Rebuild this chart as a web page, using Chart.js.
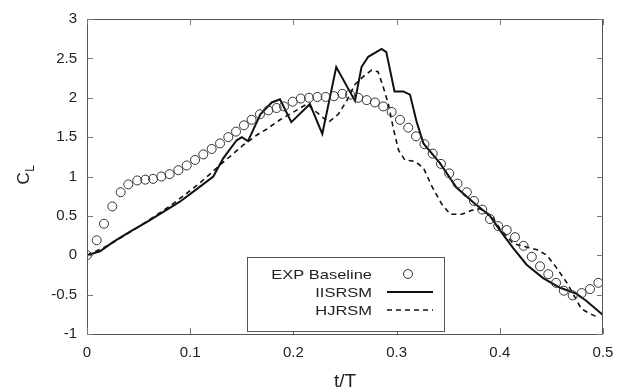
<!DOCTYPE html>
<html>
<head>
<meta charset="utf-8">
<script src="https://cdn.jsdelivr.net/npm/chart.js@4.4.1/dist/chart.umd.min.js"></script>
<style>
html,body{margin:0;padding:0;background:#fff;}
canvas{display:block;}
</style>
</head>
<body>
<canvas id="c" width="630" height="392"></canvas>
<script>
// ---- data ----
const xTicks = [0, 0.1, 0.2, 0.3, 0.4, 0.5];
const yTicks = [-1, -0.5, 0, 0.5, 1, 1.5, 2, 2.5, 3];

const expT  = [0.000,0.0094,0.0165,0.0245,0.0326,0.040,0.0487,0.0565,0.064,0.072,0.080,0.0885,0.0966,0.1047,0.1127,0.1208,0.1289,0.1369,0.1444,0.1521,0.1595,0.1676,0.1757,0.1837,0.1909,0.1993,0.2071,0.2151,0.2232,0.2313,0.2393,0.2474,0.2548,0.2629,0.271,0.279,0.287,0.2952,0.3033,0.3113,0.3188,0.327,0.335,0.343,0.351,0.359,0.368,0.375,0.383,0.3905,0.3985,0.4067,0.4147,0.423,0.431,0.439,0.447,0.4545,0.462,0.4706,0.4793,0.4874,0.4955];
const expCL = [0.00,0.19,0.40,0.62,0.80,0.90,0.95,0.96,0.97,1.00,1.03,1.08,1.14,1.21,1.28,1.35,1.42,1.50,1.57,1.65,1.72,1.79,1.84,1.87,1.89,1.95,1.99,2.00,2.01,2.01,2.02,2.05,2.04,2.00,1.97,1.94,1.89,1.82,1.72,1.62,1.51,1.41,1.29,1.16,1.04,0.91,0.80,0.69,0.58,0.46,0.37,0.32,0.23,0.12,-0.02,-0.14,-0.24,-0.35,-0.45,-0.51,-0.48,-0.43,-0.35];

const iisT  = [0,0.0126,0.0255,0.0417,0.0578,0.074,0.090,0.1063,0.1224,0.132,0.145,0.150,0.156,0.168,0.179,0.187,0.198,0.216,0.228,0.2415,0.2597,0.266,0.2725,0.2855,0.290,0.298,0.3065,0.313,0.3195,0.326,0.342,0.358,0.3745,0.3905,0.400,0.413,0.426,0.442,0.458,0.4745,0.484,0.5];
const iisCL = [0,0.05,0.17,0.30,0.42,0.55,0.68,0.84,1.00,1.23,1.46,1.50,1.45,1.79,1.94,1.98,1.69,1.92,1.54,2.39,1.96,2.39,2.52,2.62,2.58,2.08,2.08,2.04,1.69,1.42,1.17,0.86,0.67,0.50,0.32,0.09,-0.12,-0.29,-0.41,-0.49,-0.58,-0.76];

const hjT  = [0,0.02,0.05,0.08,0.1,0.1095,0.12,0.13,0.140,0.1515,0.165,0.174,0.187,0.2016,0.213,0.234,0.2435,0.2516,0.2597,0.2694,0.276,0.282,0.287,0.292,0.297,0.302,0.308,0.318,0.326,0.334,0.3437,0.352,0.363,0.3727,0.381,0.392,0.400,0.413,0.424,0.436,0.4457,0.455,0.465,0.471,0.479,0.487,0.494];
const hjCL = [0,0.12,0.36,0.62,0.82,0.92,1.04,1.16,1.27,1.40,1.53,1.60,1.72,1.83,1.92,1.69,1.79,1.96,2.17,2.29,2.35,2.33,2.14,1.92,1.60,1.33,1.21,1.19,1.11,0.88,0.65,0.52,0.52,0.57,0.59,0.50,0.34,0.15,0.11,0.07,0.00,-0.16,-0.35,-0.49,-0.68,-0.74,-0.78];

const seriesNames = ['EXP Baseline', 'IISRSM', 'HJRSM'];
const xTitle = 't/T';
const yTitleMain = 'C';
const yTitleSub = 'L';

const FONT = '"Liberation Sans", Arial, Helvetica, sans-serif';
const zip = (a, b) => a.map((v, i) => ({x: v, y: b[i]}));

const decor = {
  id: 'decor',
  afterDraw(chart) {
    const ctx = chart.ctx, a = chart.chartArea;
    const xs = chart.scales.x, ys = chart.scales.y;
    ctx.save();
    // frame
    ctx.strokeStyle = '#555';
    ctx.lineWidth = 1;
    ctx.strokeRect(a.left + 0.5, a.top + 0.5, a.right - a.left - 1, a.bottom - a.top);
    // inward ticks on all four sides
    ctx.strokeStyle = '#777';
    ctx.beginPath();
    xTicks.forEach(v => {
      const px = Math.round(xs.getPixelForValue(v)) + 0.5;
      ctx.moveTo(px, a.bottom); ctx.lineTo(px, a.bottom - 6);
      ctx.moveTo(px, a.top); ctx.lineTo(px, a.top + 6);
    });
    yTicks.forEach(v => {
      const py = Math.round(ys.getPixelForValue(v)) + 0.5;
      ctx.moveTo(a.left, py); ctx.lineTo(a.left + 6, py);
      ctx.moveTo(a.right, py); ctx.lineTo(a.right - 6, py);
    });
    ctx.stroke();

    // x title
    ctx.fillStyle = '#222';
    ctx.font = '19px ' + FONT;
    ctx.textAlign = 'center';
    ctx.textBaseline = 'middle';
    ctx.fillText(xTitle, (a.left + a.right) / 2, 382);

    // y title C_L
    ctx.save();
    ctx.translate(29, (a.top + a.bottom) / 2 + 8);
    ctx.rotate(-Math.PI / 2);
    ctx.textAlign = 'left';
    ctx.textBaseline = 'alphabetic';
    ctx.font = '17px ' + FONT;
    ctx.fillText(yTitleMain, 0, 0);
    const wC = ctx.measureText(yTitleMain).width;
    ctx.font = '12px ' + FONT;
    ctx.fillText(yTitleSub, wC + 0.5, 5);
    ctx.restore();

    // legend box
    const bx0 = 247, bx1 = 444, by0 = 257, by1 = 331;
    ctx.fillStyle = '#fff';
    ctx.fillRect(bx0, by0, bx1 - bx0, by1 - by0);
    ctx.strokeStyle = '#555';
    ctx.lineWidth = 1;
    ctx.strokeRect(bx0 + 0.5, by0 + 0.5, bx1 - bx0, by1 - by0);
    const rows = [279, 297, 315];
    const ds = chart.data.datasets;
    ds.forEach((d, i) => {
      const yb = rows[i];
      ctx.save();
      ctx.fillStyle = '#222';
      ctx.font = '13.5px ' + FONT;
      ctx.textAlign = 'right';
      ctx.textBaseline = 'alphabetic';
      ctx.translate(372, yb);
      ctx.scale(1.22, 1);
      ctx.fillText(d.label, 0, 0);
      ctx.restore();
      const ym = yb - 5;
      ctx.save();
      ctx.strokeStyle = d.borderColor;
      if (i === 0) {
        ctx.lineWidth = d.pointBorderWidth;
        ctx.beginPath();
        ctx.arc(408, ym, d.pointRadius, 0, Math.PI * 2);
        ctx.stroke();
      } else {
        ctx.lineWidth = d.borderWidth;
        ctx.setLineDash(d.borderDash || []);
        ctx.beginPath();
        ctx.moveTo(387, ym); ctx.lineTo(433, ym);
        ctx.stroke();
      }
      ctx.restore();
    });
    ctx.restore();
  }
};

new Chart(document.getElementById('c'), {
  type: 'scatter',
  data: {
    datasets: [
      {
        label: seriesNames[0],
        data: zip(expT, expCL),
        showLine: false,
        pointStyle: 'circle',
        pointRadius: 4.5,
        pointBorderWidth: 1,
        borderColor: '#333',
        pointBorderColor: '#333',
        backgroundColor: 'rgba(0,0,0,0)',
        pointBackgroundColor: 'rgba(0,0,0,0)'
      },
      {
        label: seriesNames[1],
        data: zip(iisT, iisCL),
        showLine: true,
        borderColor: '#111',
        borderWidth: 2,
        pointRadius: 0,
        tension: 0,
        fill: false
      },
      {
        label: seriesNames[2],
        data: zip(hjT, hjCL),
        showLine: true,
        borderColor: '#111',
        borderWidth: 1.6,
        borderDash: [5, 4],
        pointRadius: 0,
        tension: 0,
        fill: false
      }
    ]
  },
  options: {
    responsive: false,
    animation: false,
    devicePixelRatio: 1,
    layout: { padding: { top: 13, right: 27, left: 0, bottom: 0 } },
    plugins: { legend: { display: false }, tooltip: { enabled: false } },
    scales: {
      x: {
        type: 'linear', min: 0, max: 0.5,
        afterFit: s => { s.height = 58; },
        afterBuildTicks: s => { s.ticks = xTicks.map(v => ({value: v})); },
        grid: { display: false, drawTicks: false },
        border: { display: false },
        ticks: {
          padding: 10,
          color: '#222',
          font: { family: FONT, size: 15 },
          maxRotation: 0,
          callback: v => String(Number(v.toFixed(1)))
        }
      },
      y: {
        type: 'linear', min: -1, max: 3,
        afterFit: s => { s.width = 87; },
        afterBuildTicks: s => { s.ticks = yTicks.map(v => ({value: v})); },
        grid: { display: false, drawTicks: false },
        border: { display: false },
        ticks: {
          padding: 10,
          color: '#222',
          font: { family: FONT, size: 15 },
          callback: v => String(Number(v.toFixed(1)))
        }
      }
    }
  },
  plugins: [decor]
});
</script>
</body>
</html>
